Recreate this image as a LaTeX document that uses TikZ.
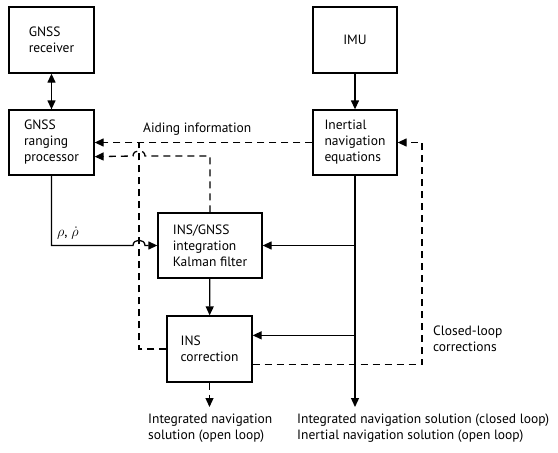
\documentclass[tikz,border=0pt]{standalone}
\usepackage{fontspec}
\setmainfont{PT Sans}
\usetikzlibrary{arrows.meta,calc}
\begin{document}
\begin{tikzpicture}[x=1pt,y=-1pt,
  txt/.style={font=\fontsize{13.5}{16}\selectfont},
  box/.style={draw,line width=1.3pt,minimum width=85pt,minimum height=65pt,align=left,inner sep=0pt,txt},
  ln/.style={line width=1.3pt},
  dsh/.style={line width=1.3pt,dash pattern=on 7pt off 5pt},
  >={Triangle[length=9pt,width=8pt]},
  lbl/.style={txt,align=left,inner sep=0pt}]
\useasboundingbox (0,0) rectangle (558,453);
\node[box,minimum height=66pt] (rec) at (51.5,40) {GNSS\\receiver};
\node[box] (proc) at (51.5,142.5) {GNSS\\ranging\\processor};
\node[box,minimum width=84pt,minimum height=66pt] (imu) at (355,40) {IMU};
\node[box,minimum width=84pt] (ine) at (355,142.5) {Inertial\\navigation\\equations};
\node[box,minimum width=104pt] (kf) at (210,245.5) {INS/GNSS\\integration\\Kalman filter};
\node[box,minimum height=66pt] (cor) at (209.5,349) {INS\\correction};

\coordinate (outR) at (355,407);
\coordinate (outL) at (209.5,407);
\coordinate (b1) at (355,245.5);
\coordinate (b2) at ($(cor.north east)+(0,20)$);
\coordinate (c1) at ($(cor.south east)+(0,-18)$);
\coordinate (p2) at ($(proc.south east)+(0,-19)$);

% solid connectors
\draw[ln,{Triangle[length=9pt,width=8pt]}-{Triangle[length=9pt,width=8pt]}] (rec) -- (proc);
\draw[ln,->] (imu) -- (ine);
\draw[ln,->] (ine.south) -- (outR);
\draw[ln,->] (b1) -- (kf.east);
\draw[ln,->] (b2 -| outR) -- (b2);
\draw[ln,->] (kf) -- (cor);
\draw[ln,->] (proc.south) |- (133,245.5) .. controls (133,238.5) and (145,238.5) .. (145,245.5) -- (kf.west);

% dashed connectors
\draw[dsh,->] (ine.west) -- (proc.east);
\draw[dsh,->] (kf.north) |- (145,156) .. controls (145,149) and (133,149) .. (133,156) -- (p2);
\draw[dsh] (cor.west) -| (139,142.5);
\draw[dsh,->] (c1) -| (422,142.5) -- (ine.east);
\draw[dsh,->] (cor.south) -- (outL);

% labels
\node[lbl,anchor=west] (aid) at (143,129) {Aiding information};
\node[lbl,anchor=west] (rho) at (57,233) {\fontsize{14}{16}\selectfont$\rho$, $\dot\rho$};
\node[lbl,anchor=west] (clc) at (433,339) {Closed-loop\\corrections};
\node[lbl,anchor=north west] (ol) at (148,414) {Integrated navigation\\solution (open loop)};
\node[lbl,anchor=north west] (cl) at (297,414) {Integrated navigation solution (closed loop)\\Inertial navigation solution (open loop)};
\end{tikzpicture}
\end{document}
